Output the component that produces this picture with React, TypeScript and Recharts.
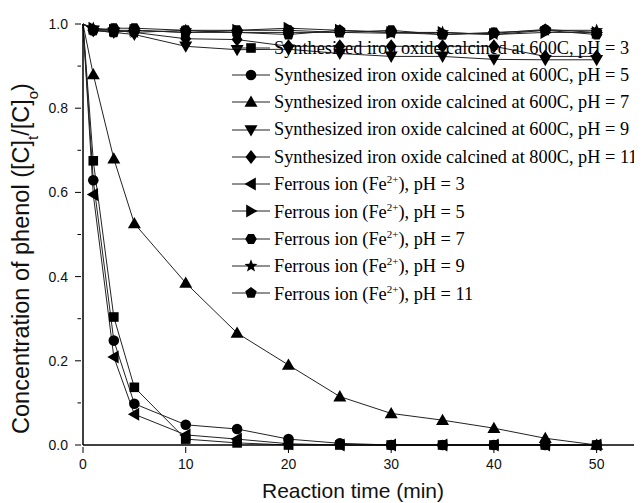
import React from 'react';
import { LineChart, Line, XAxis, YAxis } from 'recharts';

const times = [0, 1, 3, 5, 10, 15, 20, 25, 30, 35, 40, 45, 50];

const ox600pH3 = [1, 0.675, 0.304, 0.137, 0.014, 0.005, 0, 0, 0, 0, 0, 0, 0];
const ox600pH5 = [1, 0.629, 0.248, 0.098, 0.048, 0.038, 0.014, 0.004, 0, 0, 0, 0, 0];
const ox600pH7 = [1, 0.88, 0.68, 0.526, 0.385, 0.266, 0.19, 0.115, 0.075, 0.059, 0.04, 0.016, 0];
const ox600pH9 = [1, 0.985, 0.98, 0.975, 0.947, 0.939, 0.94, 0.93, 0.923, 0.923, 0.916, 0.915, 0.915];
const ox800pH11 = [1, 0.985, 0.985, 0.98, 0.965, 0.963, 0.947, 0.947, 0.947, 0.947, 0.947, 0.923, 0.923];
const fePH3 = [1, 0.595, 0.209, 0.073, 0.024, 0.014, 0.003, 0, 0, 0, 0, 0, 0];
const fePH5 = [1, 0.99, 0.985, 0.985, 0.98, 0.985, 0.99, 0.985, 0.98, 0.98, 0.975, 0.98, 0.98];
const fePH7 = [1, 0.985, 0.99, 0.99, 0.985, 0.985, 0.985, 0.98, 0.985, 0.975, 0.98, 0.985, 0.975];
const fePH9 = [1, 0.99, 0.985, 0.98, 0.985, 0.98, 0.98, 0.98, 0.978, 0.98, 0.975, 0.985, 0.985];
const fePH11 = [1, 0.985, 0.98, 0.985, 0.98, 0.98, 0.975, 0.985, 0.98, 0.975, 0.978, 0.987, 0.98];

const xTicks = [0, 10, 20, 30, 40, 50];
const yTicks = [0, 0.1, 0.2, 0.3, 0.4, 0.5, 0.6, 0.7, 0.8, 0.9, 1.0];

type SeriesDef = { key: string; shape: string; label: React.ReactNode; values: number[] };

const sup = <sup style={{ fontSize: 11 }}>2+</sup>;

const series: SeriesDef[] = [
  { key: 'a', shape: 'square', label: 'Synthesized iron oxide calcined at 600C, pH = 3', values: ox600pH3 },
  { key: 'b', shape: 'circle', label: 'Synthesized iron oxide calcined at 600C, pH = 5', values: ox600pH5 },
  { key: 'c', shape: 'up', label: 'Synthesized iron oxide calcined at 600C, pH = 7', values: ox600pH7 },
  { key: 'd', shape: 'down', label: 'Synthesized iron oxide calcined at 600C, pH = 9', values: ox600pH9 },
  { key: 'e', shape: 'diamond', label: 'Synthesized iron oxide calcined at 800C, pH = 11', values: ox800pH11 },
  { key: 'f', shape: 'left', label: <>Ferrous ion (Fe{sup}), pH = 3</>, values: fePH3 },
  { key: 'g', shape: 'right', label: <>Ferrous ion (Fe{sup}), pH = 5</>, values: fePH5 },
  { key: 'h', shape: 'hexagon', label: <>Ferrous ion (Fe{sup}), pH = 7</>, values: fePH7 },
  { key: 'i', shape: 'star', label: <>Ferrous ion (Fe{sup}), pH = 9</>, values: fePH9 },
  { key: 'j', shape: 'pentagon', label: <>Ferrous ion (Fe{sup}), pH = 11</>, values: fePH11 },
];

const data = times.map((t, i) => {
  const row: Record<string, number> = { t };
  series.forEach((s) => (row[s.key] = s.values[i]));
  return row;
});

const poly = (cx: number, cy: number, n: number, r: number, rot: number) =>
  Array.from({ length: n }, (_, k) => {
    const a = rot + (k * 2 * Math.PI) / n;
    return `${cx + r * Math.cos(a)},${cy + r * Math.sin(a)}`;
  }).join(' ');

function marker(shape: string, cx: number, cy: number) {
  const f = '#000';
  switch (shape) {
    case 'square':
      return <rect x={cx - 4.8} y={cy - 4.8} width={9.6} height={9.6} fill={f} />;
    case 'circle':
      return <circle cx={cx} cy={cy} r={5.3} fill={f} />;
    case 'up':
      return <polygon points={`${cx},${cy - 6.5} ${cx + 6.5},${cy + 4.8} ${cx - 6.5},${cy + 4.8}`} fill={f} />;
    case 'down':
      return <polygon points={`${cx},${cy + 6.5} ${cx + 6.5},${cy - 4.8} ${cx - 6.5},${cy - 4.8}`} fill={f} />;
    case 'diamond':
      return <polygon points={`${cx},${cy - 7} ${cx + 5.5},${cy} ${cx},${cy + 7} ${cx - 5.5},${cy}`} fill={f} />;
    case 'left':
      return <polygon points={`${cx - 6.5},${cy} ${cx + 4.8},${cy - 6.5} ${cx + 4.8},${cy + 6.5}`} fill={f} />;
    case 'right':
      return <polygon points={`${cx + 6.5},${cy} ${cx - 4.8},${cy - 6.5} ${cx - 4.8},${cy + 6.5}`} fill={f} />;
    case 'hexagon':
      return <polygon points={poly(cx, cy, 6, 5.8, 0)} fill={f} />;
    case 'pentagon':
      return <polygon points={poly(cx, cy, 5, 6, -Math.PI / 2)} fill={f} />;
    case 'star': {
      const pts = Array.from({ length: 10 }, (_, k) => {
        const r = k % 2 === 0 ? 6.8 : 2.9;
        const a = -Math.PI / 2 + (k * Math.PI) / 5;
        return `${cx + r * Math.cos(a)},${cy + r * Math.sin(a)}`;
      }).join(' ');
      return <polygon points={pts} fill={f} />;
    }
    default:
      return null;
  }
}

// no marker at t = 0, the reference only shows the lines starting there
const dotFor = (shape: string) => (props: any) => (
  <g key={`${shape}-${props.index}`}>{props.index === 0 ? null : marker(shape, props.cx, props.cy)}</g>
);

const YTick = (props: any) => {
  const { x, y, payload } = props;
  const major = Math.round(payload.value * 10) % 2 === 0;
  return (
    <g>
      <line x1={x} x2={x - (major ? 6 : 3.5)} y1={y} y2={y} stroke="#000" strokeWidth={1} />
      {major && (
        <text x={x - 13} y={y + 5} textAnchor="end" fontSize={14} fill="#111" fontFamily="Liberation Sans, Arial">
          {payload.value.toFixed(1)}
        </text>
      )}
    </g>
  );
};

const XTick = (props: any) => {
  const { x, y, payload } = props;
  return (
    <g>
      <line x1={x} x2={x} y1={y} y2={y + 6} stroke="#000" strokeWidth={1} />
      <text x={x} y={y + 22} textAnchor="middle" fontSize={14} fill="#111" fontFamily="Liberation Sans, Arial">
        {payload.value}
      </text>
    </g>
  );
};

// legend sits over the plot, drawn outside recharts so it doesn't eat layout space
const LegendBox = () => (
  <div
    style={{
      position: 'absolute',
      top: 26,
      left: 224,
      fontFamily: 'Liberation Serif, Times New Roman, serif',
      fontSize: 18.3,
      color: '#000',
    }}
  >
    {series.map((s) => (
      <div key={s.key} style={{ height: 27.3, display: 'flex', alignItems: 'center', whiteSpace: 'nowrap' }}>
        <svg width={38} height={16} style={{ marginRight: 4 }}>
          <line x1={0} x2={38} y1={8} y2={8} stroke="#222" strokeWidth={1} />
          {marker(s.shape, 19, 8)}
        </svg>
        <span style={{ lineHeight: 1 }}>{s.label}</span>
      </div>
    ))}
  </div>
);

const YLabel = (props: any) => {
  const vb = props.viewBox;
  const cx = 21;
  const cy = vb.y + vb.height / 2 + 24;
  return (
    <text
      transform={`translate(${cx},${cy}) rotate(-90)`}
      textAnchor="middle"
      fontSize={23.5}
      fill="#111"
      fontFamily="Liberation Sans, Arial"
    >
      Concentration of phenol ([C]
      <tspan baselineShift="sub" fontSize={15}>t</tspan>
      <tspan>/[C]</tspan>
      <tspan baselineShift="sub" fontSize={15}>o</tspan>
      <tspan>)</tspan>
    </text>
  );
};

const XLabel = (props: any) => {
  const vb = props.viewBox;
  return (
    <text x={vb.x + 270} y={vb.y + 53} textAnchor="middle" fontSize={21} fill="#111" fontFamily="Liberation Sans, Arial">
      Reaction time (min)
    </text>
  );
};

export default function App() {
  return (
    <div style={{ position: 'relative', width: 634, height: 495, overflow: 'hidden', background: '#fff' }}>
      <LineChart width={660} height={495} data={data} margin={{ top: 16, right: 20, left: 0, bottom: 8 }}>
        <XAxis
          dataKey="t"
          type="number"
          domain={[0, 55]}
          ticks={xTicks}
          tick={<XTick />}
          tickLine={false}
          tickSize={0}
          height={50}
          axisLine={{ stroke: '#000', strokeWidth: 1.5 }}
          label={<XLabel />}
        />
        <XAxis xAxisId="top" orientation="top" dataKey="t" type="number" domain={[0, 55]} tick={false} tickLine={false} height={0} axisLine={{ stroke: '#000', strokeWidth: 2 }} />
        <YAxis
          type="number"
          domain={[0, 1]}
          ticks={yTicks}
          tick={<YTick />}
          tickLine={false}
          tickSize={0}
          width={75}
          axisLine={{ stroke: '#000', strokeWidth: 1.5 }}
          label={<YLabel />}
        />
        {series.map((s) => (
          <Line
            key={s.key}
            dataKey={s.key}
            stroke="#222"
            strokeWidth={1}
            dot={dotFor(s.shape)}
            activeDot={false}
            isAnimationActive={false}
          />
        ))}
      </LineChart>
      <LegendBox />
    </div>
  );
}
